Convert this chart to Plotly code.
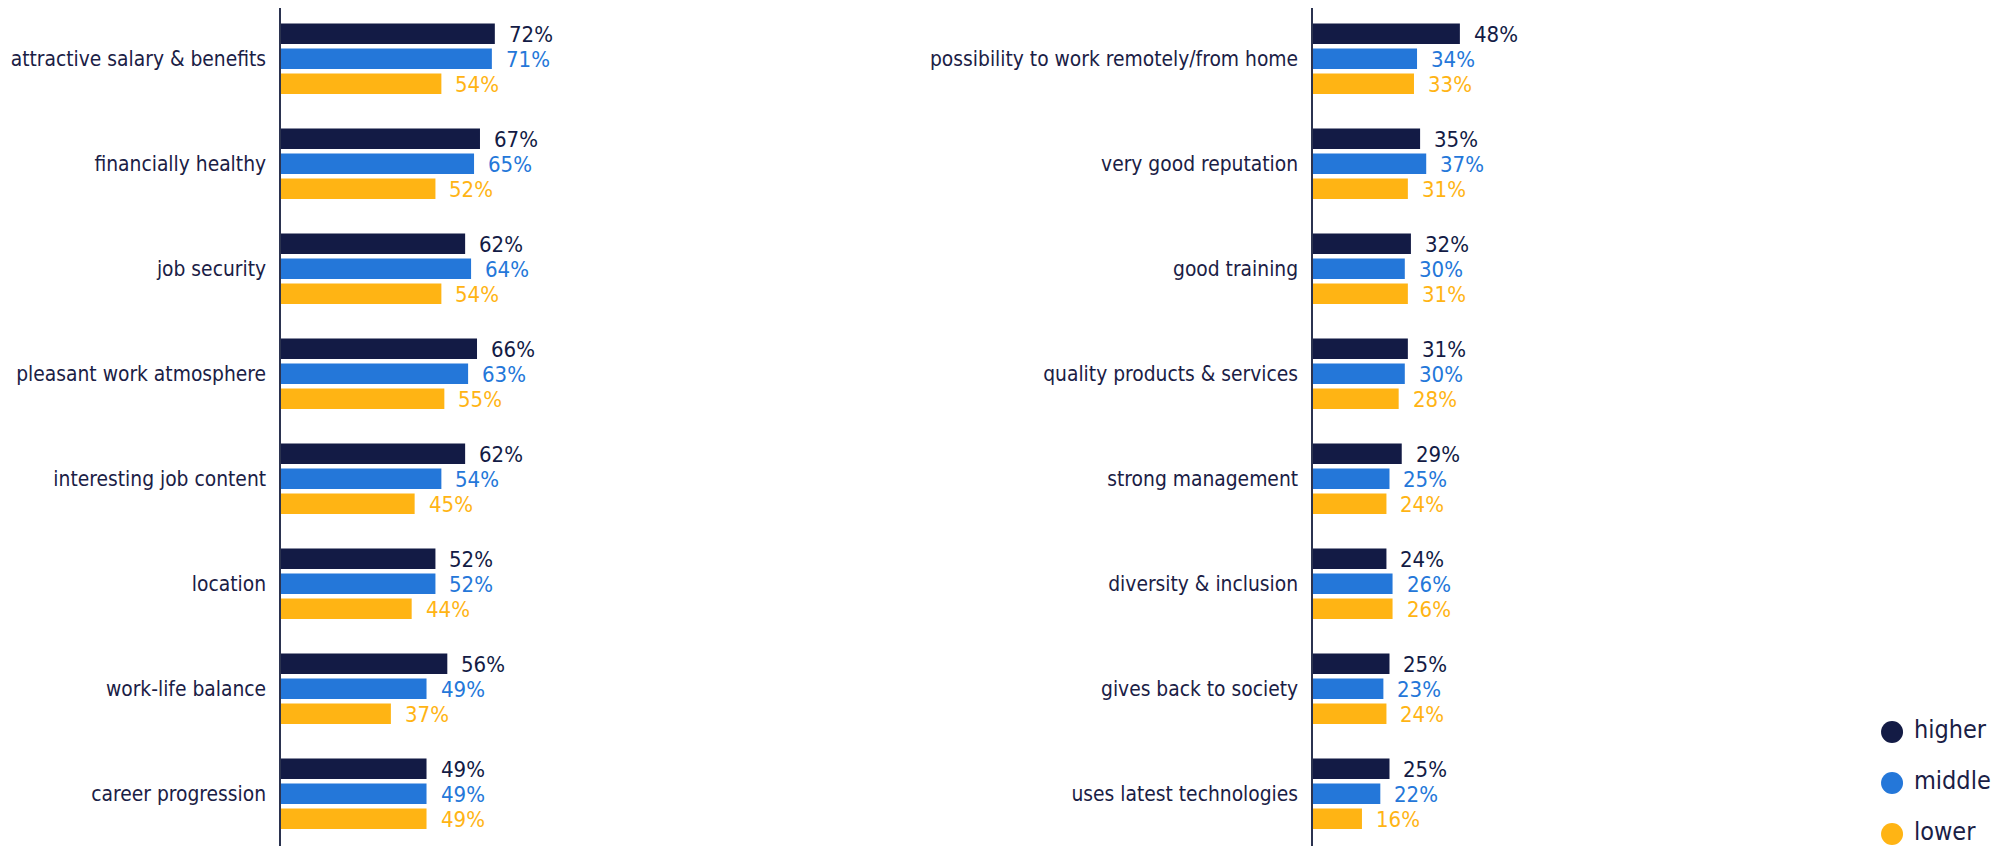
import plotly.graph_objects as go

# ---- data ----
series = ["higher", "middle", "lower"]
colors = ["#131B45", "#2477D9", "#FFB414"]

left_categories = [
    "attractive salary & benefits", "financially healthy", "job security",
    "pleasant work atmosphere", "interesting job content", "location",
    "work-life balance", "career progression",
]
left_higher = [72, 67, 62, 66, 62, 52, 56, 49]
left_middle = [71, 65, 64, 63, 54, 52, 49, 49]
left_lower = [54, 52, 54, 55, 45, 44, 37, 49]

right_categories = [
    "possibility to work remotely/from home", "very good reputation",
    "good training", "quality products & services", "strong management",
    "diversity & inclusion", "gives back to society", "uses latest technologies",
]
right_higher = [48, 35, 32, 31, 29, 24, 25, 25]
right_middle = [34, 37, 30, 30, 25, 26, 23, 22]
right_lower = [33, 31, 31, 28, 24, 26, 24, 16]

FONT = "DejaVu Sans Condensed, Liberation Sans, sans-serif"
NAVY = "#1A2045"

fig = go.Figure()
annotations = []

panels = [
    ("x", "y", left_categories, [left_higher, left_middle, left_lower]),
    ("x2", "y2", right_categories, [right_higher, right_middle, right_lower]),
]
for xa, ya, cats, vals in panels:
    for j, (name, col, v) in enumerate(zip(series, colors, vals)):
        fig.add_trace(go.Bar(
            x=v, y=cats, orientation="h", name=name,
            marker=dict(color=col, line=dict(width=0)),
            xaxis=xa, yaxis=ya, showlegend=False, hoverinfo="x+y",
        ))
        for c, val in zip(cats, v):
            annotations.append(dict(
                x=val, y=c, xref=xa, yref=ya, text=f"{val}%",
                showarrow=False, xanchor="left", yanchor="middle",
                xshift=12, yshift=(1 - j) * 25 - 1,
                font=dict(family=FONT, size=22, color=col),
            ))

# custom legend with circle markers
fig.add_trace(go.Scatter(
    x=[0, 0, 0], y=[2, 1, 0], mode="markers+text",
    text=["\u00a0" + s for s in series], textposition="middle right",
    marker=dict(size=22, color=colors),
    textfont=dict(family=FONT, size=25, color=NAVY),
    xaxis="x3", yaxis="y3", showlegend=False, hoverinfo="skip", cliponaxis=False,
))

axis_common = dict(range=[0, 100], showgrid=False, zeroline=False,
                   showticklabels=False, showline=False, fixedrange=True)
yaxis_common = dict(range=[7.497, -0.4838], showgrid=False, zeroline=False,
                    showline=True, linecolor="#2B3350", linewidth=1.5,
                    ticks="", ticklabelstandoff=9,
                    tickfont=dict(family=FONT, size=20.8, color=NAVY))

fig.update_layout(
    width=1992, height=842,
    margin=dict(l=0, r=0, t=0, b=4),
    paper_bgcolor="white", plot_bgcolor="white",
    barmode="group", bargap=0.2857, bargroupgap=0.18,
    showlegend=False,
    xaxis=dict(domain=[0.13705, 0.28614], **axis_common),
    yaxis=dict(anchor="x", **yaxis_common),
    xaxis2=dict(domain=[0.65512, 0.80873], anchor="y2", **axis_common),
    yaxis2=dict(anchor="x2", **yaxis_common),
    xaxis3=dict(domain=[0.9458, 0.995], range=[0, 1], anchor="y3", visible=False),
    yaxis3=dict(domain=[0.0021, 0.1665], range=[-0.2, 2.5], anchor="x3", visible=False),
    annotations=annotations,
    font=dict(family=FONT),
)

fig.write_html("out.html")
